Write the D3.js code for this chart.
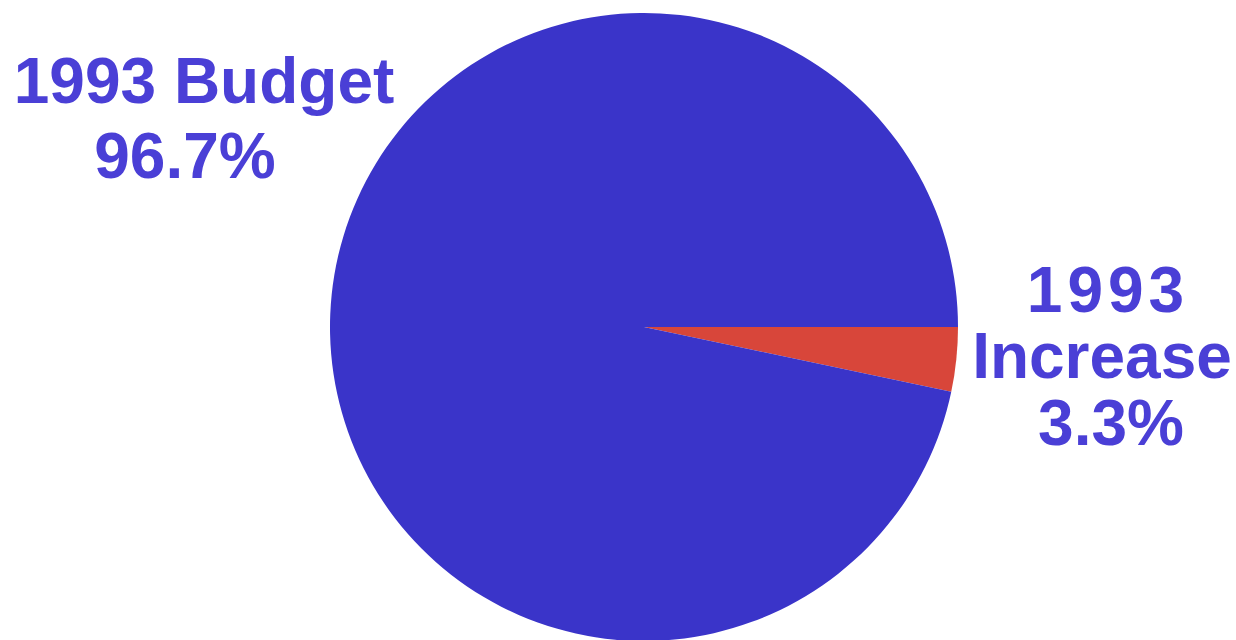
<!DOCTYPE html>
<html>
<head>
<meta charset="utf-8">
<script src="https://cdn.jsdelivr.net/npm/d3@7"></script>
<style>
  html, body { margin: 0; padding: 0; background: #fff; }
  svg { display: block; }
</style>
</head>
<body>
<div id="theGraph"></div>
<script>
// slice data, clockwise from 3 o'clock
var categories = ["1993 Increase", "1993 Budget"];
var values = [3.3, 96.7];
var sliceColors = ["#d8463a", "#3a34c9"];

const width = 1236, height = 640;
const cx = 644, cy = 327, radius = 314;
const textColor = "#4a3fd6";

const svg = d3.select("#theGraph")
            .append("svg")
                .attr("width", width)
                .attr("height", height);

var data = categories.map((c, i) => ({name: c, value: values[i]}));

// start at 3 o'clock and go round clockwise
const pie = d3.pie()
              .sort(null)
              .value(d => d.value)
              .startAngle(Math.PI / 2)
              .endAngle(Math.PI / 2 + 2 * Math.PI);

const arc = d3.arc().innerRadius(0).outerRadius(radius);

const color = d3.scaleOrdinal().domain(categories).range(sliceColors);

svg.append("g")
    .attr("transform", `translate(${cx}, ${cy})`)
  .selectAll("path")
    .data(pie(data))
    .enter()
  .append("path")
    .attr("d", arc)
    .style("fill", d => color(d.data.name));

// labels: each line placed by hand like the original
function pct(v) { return v.toFixed(1) + "%"; }

var labelLines = [
    {text: "1993 Budget", x: 204, y: 103},
    {text: pct(values[1]), x: 185, y: 178},
    {text: "1993", x: 1108, y: 312, spacing: 5},
    {text: "Increase", x: 1102, y: 378},
    {text: pct(values[0]), x: 1111, y: 445}
];

svg.selectAll(".lbl")
    .data(labelLines)
    .enter()
  .append("text")
    .attr("class", "lbl")
    .attr("x", d => d.x)
    .attr("y", d => d.y)
    .attr("text-anchor", "middle")
    .style("font-family", "'Liberation Sans', Arial, sans-serif")
    .style("font-weight", "bold")
    .style("font-size", "64px")
    .style("letter-spacing", d => (d.spacing || 0) + "px")
    .style("fill", textColor)
    .text(d => d.text);
</script>
</body>
</html>
